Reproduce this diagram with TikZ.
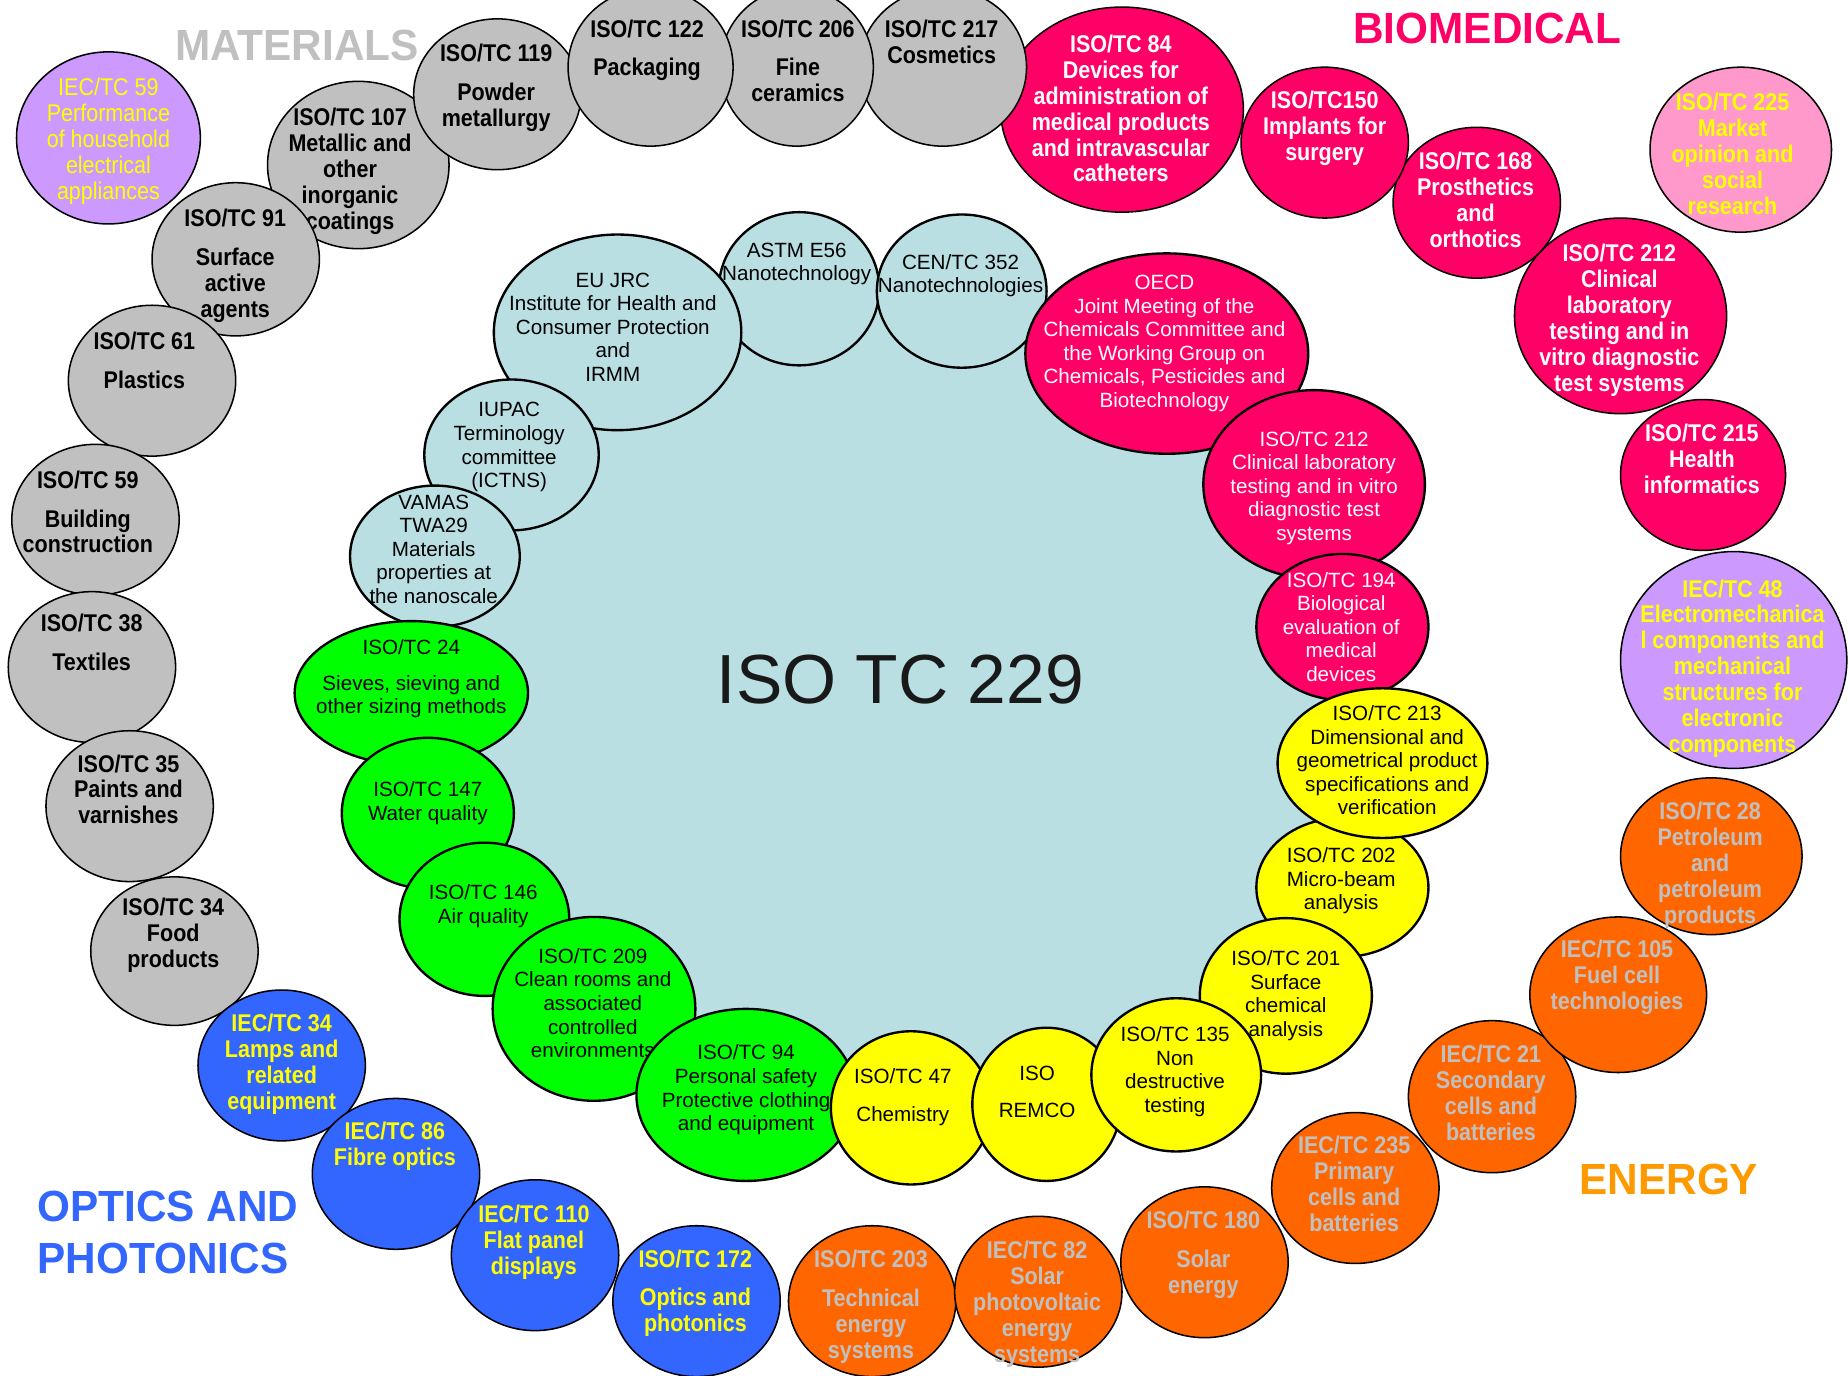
\documentclass[tikz,border=0pt]{standalone}
\usepackage{fontspec}
\setmainfont{Liberation Sans}
\newfontfamily\narrowfam[FakeStretch=0.89]{Liberation Sans}
\newfontfamily\headfam[FakeStretch=0.97]{Liberation Sans}
\usetikzlibrary{shapes.geometric}

\definecolor{tcgrey}{HTML}{C0C0C0}
\definecolor{tcpink}{HTML}{FF0066}
\definecolor{tcrose}{HTML}{FF99CC}
\definecolor{tclilac}{HTML}{CC99FF}
\definecolor{tcorange}{HTML}{FF6600}
\definecolor{tcblue}{HTML}{3366FF}
\definecolor{tcgreen}{HTML}{00FF00}
\definecolor{tcyellow}{HTML}{FFFF00}
\definecolor{tccore}{HTML}{B9DFE3}
\definecolor{tcamber}{HTML}{FF9900}

\newcommand\ringfont{\narrowfam\bfseries\fontsize{20.5}{22}\selectfont}
\newcommand\ringfontlight{\narrowfam\fontsize{20.5}{22}\selectfont}
\newcommand\corefont{\fontsize{17.5}{20}\selectfont}
\newcommand\headfont{\headfam\bfseries\fontsize{37}{43.5}\selectfont}

\tikzset{
  every node/.style={inner sep=0pt, outer sep=0pt},
  ringbub/.style={ellipse, draw=black, line width=1.3pt},
  corebub/.style={ellipse, draw=black, line width=2pt},
  % struts fix the box height so that the text sits at a known place
  ringtext/.style={align=center, font=\ringfont,
    execute at begin node={\rule{0pt}{24.4pt}},
    execute at end node={\rule[-4.7pt]{0pt}{4.7pt}}},
  ringtextlight/.style={ringtext, font=\ringfontlight},
  coretext/.style={align=center, font=\corefont,
    execute at begin node={\rule{0pt}{21.5pt}},
    execute at end node={\rule[-4pt]{0pt}{4pt}}},
  headtext/.style={font=\headfont,
    execute at begin node={\rule{0pt}{35.5pt}},
    execute at end node={\rule[-9pt]{0pt}{9pt}}},
  grey/.style={ringbub, fill=tcgrey},
  pinkbub/.style={ringbub, fill=tcpink},
  bluebub/.style={ringbub, fill=tcblue},
  orangebub/.style={ringbub, fill=tcorange},
  nanobub/.style={corebub, fill=tccore},
  greenbub/.style={corebub, fill=tcgreen},
  yellowbub/.style={corebub, fill=tcyellow},
  redbub/.style={corebub, fill=tcpink},
}

\begin{document}
\begin{tikzpicture}[x=1pt, y=-1pt]
\fill[white] (0,0) rectangle (1568,1167);
\useasboundingbox (0,0) rectangle (1568,1167);

% ---------- central area of ISO TC 229 ----------
\fill[tccore] (678,245) -- (816,247) -- (990,300) -- (1115,411) -- (1139,532)
  -- (1173,647) -- (1139,753) -- (1091,845) -- (998,912) -- (888,937)
  -- (773,940) -- (633,929) -- (504,856) -- (411,780) -- (363,690)
  -- (349,588) -- (369,472) -- (434,386) -- (524,282) -- cycle;
\node[font=\fontsize{59}{60}\selectfont, text=black!90] (core) at (764,577) {ISO TC 229};

% ---------- inner ring of liaison committees ----------
\node[nanobub, minimum width=136pt, minimum height=130pt] (astm) at (678,245) {};
\node[coretext] (astm-t) at (676,224) {ASTM E56\\Nanotechnology};
\node[nanobub, minimum width=144pt, minimum height=130pt] (cen) at (816,247) {};
\node[coretext] (cen-t) at (815,234) {CEN/TC 352\\Nanotechnologies};

\node[redbub, minimum width=240pt, minimum height=170pt] (oecd) at (990,300) {};
\node[coretext, text=white] (oecd-t) at (988,291.5) {OECD\\Joint Meeting of the\\Chemicals Committee and\\the Working Group on\\Chemicals, Pesticides and\\Biotechnology};
\node[redbub, minimum width=188pt, minimum height=160pt] (tc212i) at (1115,411) {};
\node[coretext, text=white] (tc212i-t) at (1115,414.3) {ISO/TC 212\\Clinical laboratory\\testing and in vitro\\diagnostic test\\systems};
\node[redbub, minimum width=146pt, minimum height=124pt] (tc194) at (1139,532) {};
\node[coretext, text=white] (tc194-t) at (1138,533.8) {ISO/TC 194\\Biological\\evaluation of\\medical\\devices};

\node[yellowbub, minimum width=146pt, minimum height=118pt] (tc202) at (1139,753) {};
\node[coretext] (tc202-t) at (1138,747.5) {ISO/TC 202\\Micro-beam\\analysis};
\node[yellowbub, minimum width=178pt, minimum height=127pt] (tc213) at (1173,647.5) {};
\node[coretext] (tc213-t) at (1177,647) {ISO/TC 213\\Dimensional and\\geometrical product\\specifications and\\verification};
\node[yellowbub, minimum width=146pt, minimum height=132pt] (tc201) at (1091,845) {};
\node[coretext] (tc201-t) at (1091,845) {ISO/TC 201\\Surface\\chemical\\analysis};

\node[nanobub, minimum width=210pt, minimum height=166pt] (jrc) at (524,282) {};
\node[coretext] (jrc-t) at (520,279.6) {EU JRC\\Institute for Health and\\Consumer Protection\\and\\IRMM};
\node[nanobub, minimum width=148pt, minimum height=128pt] (iupac) at (434,386) {};
\node[coretext] (iupac-t) at (432,379.6) {IUPAC\\Terminology\\committee\\(ICTNS)};
\node[nanobub, minimum width=144pt, minimum height=120pt] (vamas) at (369,472) {};
\node[coretext] (vamas-t) at (368,468) {VAMAS\\TWA29\\Materials\\properties at\\the nanoscale};

\node[greenbub, minimum width=198pt, minimum height=122pt] (tc24) at (349,588) {};
\node[coretext] (tc24-t) at (349,576.3) {ISO/TC 24\\[10pt]Sieves, sieving and\\other sizing methods};
\node[greenbub, minimum width=146pt, minimum height=128pt] (tc147) at (363,690) {};
\node[coretext] (tc147-t) at (363,681.6) {ISO/TC 147\\Water quality};
\node[greenbub, minimum width=144pt, minimum height=130pt] (tc146) at (411,780) {};
\node[coretext] (tc146-t) at (410,769) {ISO/TC 146\\Air quality};
\node[greenbub, minimum width=172pt, minimum height=156pt] (tc209) at (504,856) {};
\node[coretext] (tc209-t) at (503,853) {ISO/TC 209\\Clean rooms and\\associated\\controlled\\environments};
\node[greenbub, minimum width=186pt, minimum height=146pt] (tc94) at (633,929) {};
\node[coretext] (tc94-t) at (633,925) {ISO/TC 94\\Personal safety\\Protective clothing\\and equipment};

\node[yellowbub, minimum width=136pt, minimum height=130pt] (tc47) at (773,940) {};
\node[coretext] (tc47-t) at (766,931.2) {ISO/TC 47\\[12pt]Chemistry};
\node[yellowbub, minimum width=126pt, minimum height=130pt] (remco) at (888,937) {};
\node[coretext] (remco-t) at (880,928.3) {ISO\\[12pt]REMCO};
\node[yellowbub, minimum width=144pt, minimum height=130pt] (tc135) at (998,912) {};
\node[coretext] (tc135-t) at (997,909.3) {ISO/TC 135\\Non\\destructive\\testing};

% ---------- outer ring: materials ----------
\node[ringbub, fill=tclilac, minimum width=156pt, minimum height=146pt] (iec59) at (92,117) {};
\node[ringtextlight, text=tcyellow] (iec59-t) at (92,120) {IEC/TC 59\\Performance\\of household\\electrical\\appliances};

\node[grey, minimum width=154pt, minimum height=142pt] (tc107) at (304,140) {};
\node[ringtext] (tc107-t) at (297,145.6) {ISO/TC 107\\Metallic and\\other\\inorganic\\coatings};
\node[grey, minimum width=142pt, minimum height=128pt] (tc119) at (422,80) {};
\node[ringtext] (tc119-t) at (421,74.5) {ISO/TC 119\\[11pt]Powder\\metallurgy};
\node[grey, minimum width=142pt, minimum height=130pt] (tc91) at (200,220) {};
\node[ringtext] (tc91-t) at (199.6,225.7) {ISO/TC 91\\[11pt]Surface\\active\\agents};
\node[grey, minimum width=142pt, minimum height=128pt] (tc61) at (129,323) {};
\node[ringtext] (tc61-t) at (122.5,308) {ISO/TC 61\\[11pt]Plastics};
\node[grey, minimum width=142pt, minimum height=128pt] (tc59) at (81,441) {};
\node[ringtext] (tc59-t) at (74.5,436.6) {ISO/TC 59\\[11pt]Building\\construction};
\node[grey, minimum width=142pt, minimum height=128pt] (tc38) at (78,566) {};
\node[ringtext] (tc38-t) at (77.8,547.3) {ISO/TC 38\\[10.6pt]Textiles};
\node[grey, minimum width=142pt, minimum height=128pt] (tc35) at (110,684) {};
\node[ringtext] (tc35-t) at (109,672) {ISO/TC 35\\Paints and\\varnishes};
\node[grey, minimum width=142pt, minimum height=126pt] (tc34) at (148,807) {};
\node[ringtext] (tc34-t) at (147,794) {ISO/TC 34\\Food\\products};

% ---------- outer ring: optics and photonics ----------
\node[bluebub, minimum width=142pt, minimum height=128pt] (iec34) at (239,904) {};
\node[ringtext, text=tcyellow] (iec34-t) at (239,903) {IEC/TC 34\\Lamps and\\related\\equipment};
\node[bluebub, minimum width=142pt, minimum height=128pt] (iec86) at (336,996) {};
\node[ringtext, text=tcyellow] (iec86-t) at (335,973) {IEC/TC 86\\Fibre optics};
\node[bluebub, minimum width=142pt, minimum height=128pt] (iec110) at (454,1065) {};
\node[ringtext, text=tcyellow] (iec110-t) at (453,1054) {IEC/TC 110\\Flat panel\\displays};
\node[bluebub, minimum width=142pt, minimum height=128pt] (tc172) at (591,1104) {};
\node[ringtext, text=tcyellow] (tc172-t) at (590,1097.5) {ISO/TC 172\\[11pt]Optics and\\photonics};

% ---------- outer ring: energy ----------
\node[orangebub, minimum width=142pt, minimum height=128pt] (tc203) at (740,1104) {};
\node[ringtext, text=tcgrey] (tc203-t) at (739,1109) {ISO/TC 203\\[11pt]Technical\\energy\\systems};
\node[orangebub, minimum width=142pt, minimum height=128pt] (iec82) at (881,1096) {};
\node[ringtext, text=tcgrey] (iec82-t) at (880,1107) {IEC/TC 82\\Solar\\photovoltaic\\energy\\systems};
\node[orangebub, minimum width=142pt, minimum height=128pt] (tc180) at (1022,1071) {};
\node[ringtext, text=tcgrey] (tc180-t) at (1021,1064.5) {ISO/TC 180\\[11pt]Solar\\energy};
\node[orangebub, minimum width=142pt, minimum height=128pt] (iec235) at (1150,1008) {};
\node[ringtext, text=tcgrey] (iec235-t) at (1149,1006.5) {IEC/TC 235\\Primary\\cells and\\batteries};
\node[orangebub, minimum width=142pt, minimum height=129pt] (iec21) at (1266,930.5) {};
\node[ringtext, text=tcgrey] (iec21-t) at (1265,929.5) {IEC/TC 21\\Secondary\\cells and\\batteries};
\node[orangebub, minimum width=150pt, minimum height=132pt] (iec105) at (1373,844) {};
\node[ringtext, text=tcgrey] (iec105-t) at (1372,829.5) {IEC/TC 105\\Fuel cell\\technologies};
\node[orangebub, minimum width=154pt, minimum height=133pt] (tc28) at (1452,726.5) {};
\node[ringtext, text=tcgrey] (tc28-t) at (1451,734.5) {ISO/TC 28\\Petroleum\\and\\petroleum\\products};
\node[ringbub, fill=tclilac, minimum width=192pt, minimum height=184pt] (iec48) at (1471,560) {};
\node[ringtext, text=tcyellow] (iec48-t) at (1470,567.5) {IEC/TC 48\\Electromechanica\\l components and\\mechanical\\structures for\\electronic\\components};

% ---------- outer ring: biomedical ----------
\node[pinkbub, minimum width=140pt, minimum height=128pt] (tc215) at (1445,403) {};
\node[ringtext, text=white] (tc215-t) at (1444,391.3) {ISO/TC 215\\Health\\informatics};
\node[pinkbub, minimum width=180pt, minimum height=166pt] (tc212) at (1375,268) {};
\node[ringtext, text=white] (tc212-t) at (1374,272) {ISO/TC 212\\Clinical\\laboratory\\testing and in\\vitro diagnostic\\test systems};
\node[pinkbub, minimum width=142pt, minimum height=128pt] (tc168) at (1253,172) {};
\node[ringtext, text=white] (tc168-t) at (1252,171.5) {ISO/TC 168\\Prosthetics\\and\\orthotics};
\node[pinkbub, minimum width=142pt, minimum height=128pt] (tc150) at (1124,121) {};
\node[ringtext, text=white] (tc150-t) at (1124,109) {ISO/TC150\\Implants for\\surgery};
\node[pinkbub, minimum width=206pt, minimum height=174pt] (tc84) at (952,93) {};
\node[ringtext, text=white] (tc84-t) at (951,94.3) {ISO/TC 84\\Devices for\\administration of\\medical products\\and intravascular\\catheters};
\node[ringbub, fill=tcrose, minimum width=154pt, minimum height=140pt] (tc225) at (1477,127) {};
\node[ringtext, text=tcyellow] (tc225-t) at (1470,133) {ISO/TC 225\\Market\\opinion and\\social\\research};

% ---------- outer ring: materials, top row ----------
\node[grey, minimum width=142pt, minimum height=134pt] (tc217) at (800,57) {};
\node[ringtext] (tc217-t) at (799,37.5) {ISO/TC 217\\Cosmetics};
\node[grey, minimum width=130pt, minimum height=134pt] (tc206) at (676,57) {};
\node[ringtext] (tc206-t) at (677,54) {ISO/TC 206\\[10pt]Fine\\ceramics};
\node[grey, minimum width=140pt, minimum height=134pt] (tc122) at (552,57) {};
\node[ringtext] (tc122-t) at (549,43) {ISO/TC 122\\[10pt]Packaging};

% ---------- group headings ----------
\node[headtext, text=tcgrey] (hmat) at (252,38) {MATERIALS};
\node[headtext, text=tcpink] (hbio) at (1262,24) {BIOMEDICAL};
\node[headtext, text=tcamber] (hene) at (1416,1000.5) {ENERGY};
\node[headtext, text=tcblue, align=left, anchor=west] (hopt) at (32,1050) {OPTICS AND\\PHOTONICS};
\end{tikzpicture}
\end{document}
